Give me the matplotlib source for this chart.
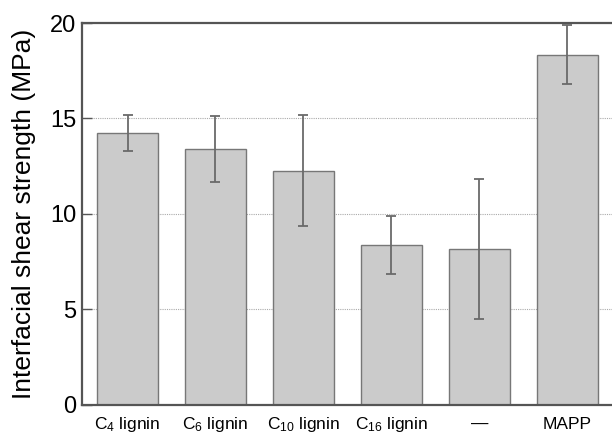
import matplotlib.pyplot as plt

plt.rcParams["font.family"] = ["Liberation Sans", "DejaVu Sans"]
plt.rcParams["mathtext.fontset"] = "custom"
plt.rcParams["mathtext.rm"] = "Liberation Sans"
plt.rcParams["mathtext.it"] = "Liberation Sans"

# データ
labels = [r"C$_4$ lignin", r"C$_6$ lignin", r"C$_{10}$ lignin",
          r"C$_{16}$ lignin", "\u2014", "MAPP"]
strength = [14.25, 13.4, 12.27, 8.38, 8.15, 18.33]
err = [0.95, 1.75, 2.9, 1.5, 3.66, 1.55]
yticks = [0, 5, 10, 15, 20]

fig = plt.figure(figsize=(6.12, 4.34), dpi=100)
ax = fig.add_axes([0.134, 0.067, 0.866, 0.88])

x = range(len(labels))
ax.bar(x, strength, width=0.69, color="#cbcbcb", edgecolor="#777777",
       linewidth=1.0, zorder=2)
ax.errorbar(x, strength, yerr=err, fmt="none", ecolor="#6a6a6a",
            elinewidth=1.3, capsize=3.3, capthick=1.3, zorder=3)

for v in yticks[1:-1]:
    ax.axhline(v, color="#aaaaaa", linestyle=(0, (1, 1)), linewidth=0.8,
               zorder=1)

ax.set_xlim(-0.517, 5.506)
ax.set_ylim(0, 20)
ax.set_yticks(yticks)
ax.set_yticklabels([str(v) for v in yticks], fontsize=17)
ax.set_xticks(list(x))
ax.set_xticklabels(labels, fontsize=12.5)
for lab in ax.get_xticklabels():
    lab.set_verticalalignment("baseline")
ax.tick_params(axis="y", direction="in", length=7, width=1.0,
               color="#555555", pad=4)
ax.tick_params(axis="x", length=0, pad=17)

ax.set_ylabel("Interfacial shear strength (MPa)", fontsize=19)
ax.yaxis.set_label_coords(-0.087, 0.5)

for side in ["left", "top", "bottom"]:
    ax.spines[side].set_color("#555555")
    ax.spines[side].set_linewidth(1.6)
ax.spines["right"].set_visible(False)

plt.savefig("out.png", dpi=100)
